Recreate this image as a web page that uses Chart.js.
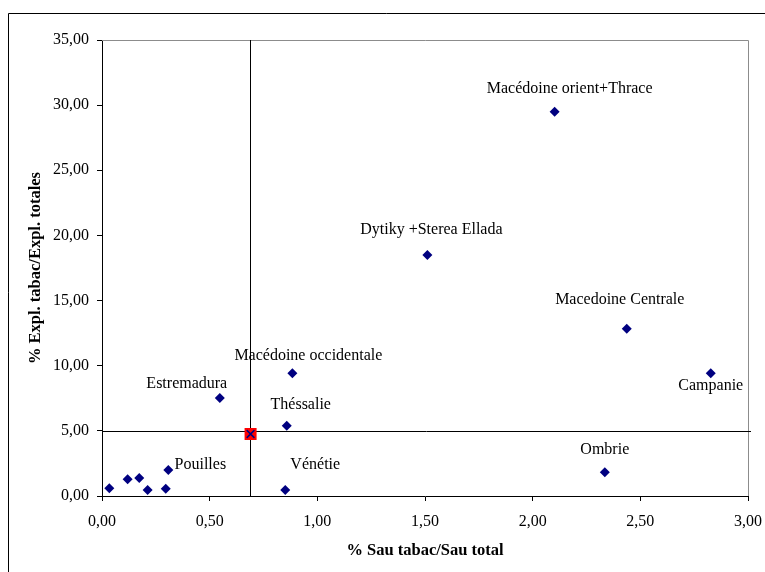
<!DOCTYPE html>
<html><head><meta charset="utf-8">
<script src="https://cdn.jsdelivr.net/npm/chart.js@4"></script>
<style>html,body{margin:0;padding:0;background:#fff}#wrap{width:765px;height:572px;position:relative}</style>
</head><body><div id="wrap"><canvas id="c" width="765" height="572"></canvas></div>
<script>
// ---- data ----
const regionNames = ["", "", "", "", "", "Pouilles", "Estremadura", "Théssalie", "Vénétie",
  "Macédoine occidentale", "Dytiky +Sterea Ellada", "Macédoine orient+Thrace", "Ombrie",
  "Macedoine Centrale", "Campanie"];
const sauShare  = [0.034, 0.119, 0.173, 0.212, 0.296, 0.308, 0.547, 0.858, 0.851, 0.884, 1.511, 2.102, 2.335, 2.437, 2.827];
const explShare = [0.59, 1.28, 1.38, 0.46, 0.56, 2.00, 7.52, 5.40, 0.46, 9.42, 18.50, 29.49, 1.82, 12.84, 9.42];
const meanPoint = [0.69, 4.76];
const refLineX = 0.687;
const refLineY = 4.98;
const xTitle = "% Sau tabac/Sau total";
const yTitle = "% Expl. tabac/Expl. totales";

// label placement (pixel offsets from each point) – styling only
const labelOffsets = [[0,0],[0,0],[0,0],[0,0],[0,0],[32,-5],[-33,-14],[14,-21],[30,-25],
  [16,-17],[4,-25],[15,-23],[0,-22],[-7,-29],[0,13]];

const fmt = v => Number(v).toFixed(2).replace('.', ',');
const serif = '"Liberation Serif", "Times New Roman", serif';

const pts = sauShare.map((x, i) => ({x, y: explShare[i]}));

const overlay = {
  id: 'overlay',
  beforeDatasetsDraw(chart) {
    const {ctx, chartArea: a, scales: {x, y}} = chart;
    ctx.save();
    ctx.strokeStyle = '#8c8c8c'; ctx.lineWidth = 1;
    ctx.beginPath();
    ctx.moveTo(a.left, a.top + 0.5); ctx.lineTo(a.right + 0.5, a.top + 0.5);
    ctx.lineTo(a.right + 0.5, a.bottom);
    ctx.stroke();
    ctx.strokeStyle = '#000'; ctx.lineWidth = 1;
    const px = Math.round(x.getPixelForValue(refLineX)) + 0.5;
    const py = Math.round(y.getPixelForValue(refLineY)) + 0.5;
    ctx.beginPath();
    ctx.moveTo(px, a.top); ctx.lineTo(px, a.bottom);
    ctx.moveTo(a.left, py); ctx.lineTo(a.right + 3, py);
    ctx.stroke();
    ctx.restore();
  },
  afterDatasetsDraw(chart) {
    const {ctx, scales: {x, y}} = chart;
    ctx.save();
    ctx.font = '16px ' + serif;
    ctx.fillStyle = '#000';
    ctx.textAlign = 'center';
    ctx.textBaseline = 'middle';
    regionNames.forEach((name, i) => {
      if (!name) return;
      const px = x.getPixelForValue(sauShare[i]) + labelOffsets[i][0];
      const py = y.getPixelForValue(explShare[i]) + labelOffsets[i][1];
      ctx.fillText(name, px, py);
    });
    ctx.restore();
  },
  afterDraw(chart) {
    const {ctx, width, height} = chart;
    ctx.save();
    ctx.strokeStyle = '#000'; ctx.lineWidth = 1;
    ctx.beginPath();
    ctx.moveTo(8.5, height); ctx.lineTo(8.5, 13.5); ctx.lineTo(width, 13.5);
    ctx.stroke();
    ctx.restore();
  }
};

new Chart(document.getElementById('c'), {
  type: 'scatter',
  data: {
    datasets: [
      {data: pts, order: 2, pointStyle: 'rectRot', pointRadius: 5, pointBackgroundColor: '#000080',
       pointBorderColor: '#000080', pointBorderWidth: 0, showLine: false},
      {data: [{x: meanPoint[0], y: meanPoint[1]}], order: 3, pointStyle: 'rect', pointRadius: 8.5,
       pointBackgroundColor: '#ff0000', pointBorderWidth: 0, showLine: false},
      {data: [{x: meanPoint[0], y: meanPoint[1]}], order: 1, pointStyle: 'crossRot', pointRadius: 5.5,
       pointBorderColor: '#000080', pointBackgroundColor: 'rgba(0,0,0,0)', pointBorderWidth: 1.5, showLine: false}
    ]
  },
  options: {
    responsive: false, animation: false, devicePixelRatio: 1,
    layout: {padding: {top: 40, right: 17, left: 0, bottom: 0}},
    plugins: {legend: {display: false}, tooltip: {enabled: false}},
    scales: {
      x: {
        type: 'linear', min: 0, max: 3,
        afterFit: s => { s.height = 76; s.paddingLeft = 0; s.paddingRight = 0; },
        ticks: {stepSize: 0.5, callback: fmt, color: '#000', padding: 11, maxRotation: 0,
                font: {family: serif, size: 16}},
        grid: {drawOnChartArea: false, drawTicks: true, tickLength: 5, color: '#000'},
        border: {color: '#000', width: 1},
        title: {display: true, text: xTitle, color: '#000', padding: {top: 0, bottom: 11},
                font: {family: serif, size: 16.5, weight: 'bold'}}
      },
      y: {
        type: 'linear', min: 0, max: 35,
        afterFit: s => { s.width = 102; s.paddingTop = 0; s.paddingBottom = 0; },
        ticks: {stepSize: 5, callback: fmt, color: '#000', padding: 8,
                font: {family: serif, size: 16}},
        grid: {drawOnChartArea: false, drawTicks: true, tickLength: 5, color: '#000'},
        border: {color: '#000', width: 1},
        title: {display: true, text: yTitle, color: '#000', padding: {top: 26, bottom: 0},
                font: {family: serif, size: 16.5, weight: 'bold'}}
      }
    }
  },
  plugins: [overlay]
});
</script></body></html>
